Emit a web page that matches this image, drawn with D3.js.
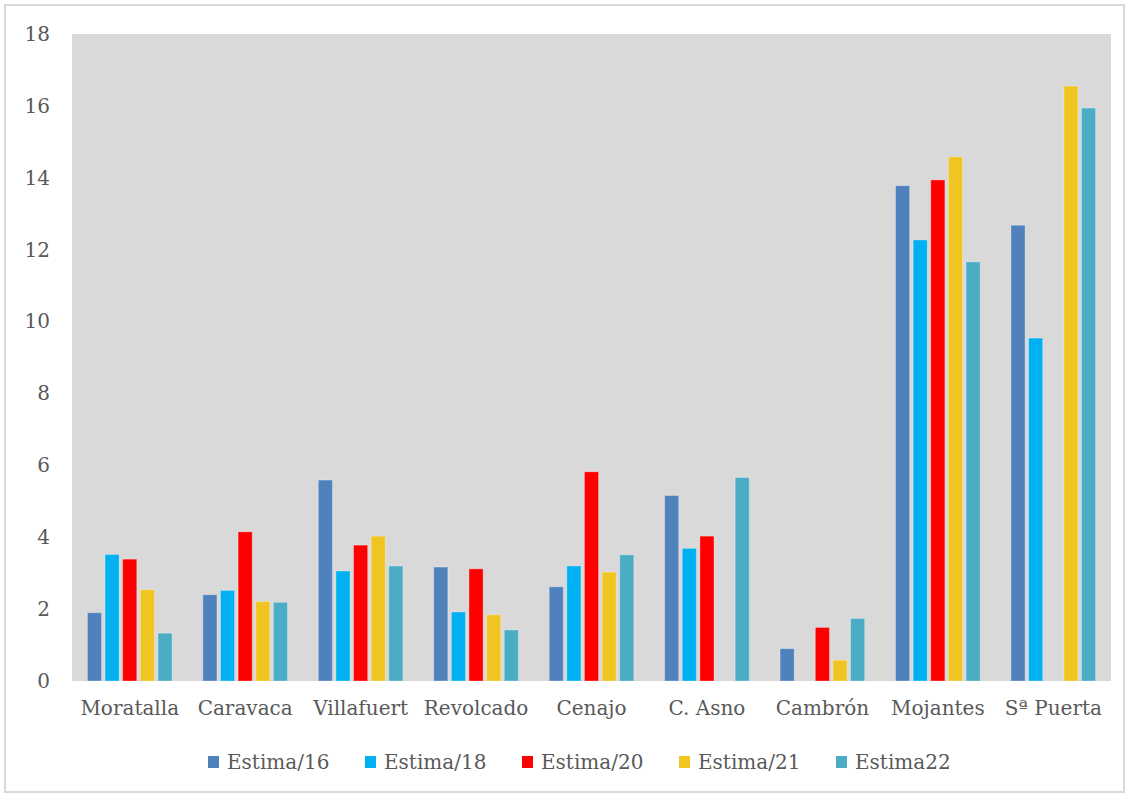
<!DOCTYPE html>
<html lang="es">
<head>
<meta charset="UTF-8">
<title>Estimas</title>
<script src="https://d3js.org/d3.v7.min.js"></script>
<style>
  body { margin: 0; background: #fff; }
  text { font-family: "DejaVu Serif", "Liberation Serif", serif; fill: #595959; }
</style>
</head>
<body>
<div id="chart"></div>
<script>
const categories = ['Moratalla', 'Caravaca', 'Villafuert', 'Revolcado', 'Cenajo', 'C. Asno', 'Cambrón', 'Mojantes', 'Sª Puerta'];
const seriesNames = ['Estima/16', 'Estima/18', 'Estima/20', 'Estima/21', 'Estima22'];
const seriesColors = ['#4f81bd', '#00b0f0', '#ff0000', '#f0c521', '#4bacc6'];

// null = no bar
const estima16 = [1.90, 2.40, 5.59, 3.17, 2.62, 5.16, 0.90, 13.78, 12.68];
const estima18 = [3.52, 2.52, 3.06, 1.92, 3.20, 3.69, null, 12.27, 9.54];
const estima20 = [3.39, 4.15, 3.78, 3.12, 5.82, 4.03, 1.49, 13.94, null];
const estima21 = [2.54, 2.21, 4.03, 1.84, 3.03, null, 0.58, 14.58, 16.55];
const estima22 = [1.33, 2.19, 3.20, 1.42, 3.51, 5.66, 1.74, 11.66, 15.94];
const yTicks = [0, 2, 4, 6, 8, 10, 12, 14, 16, 18];

const seriesValues = [estima16, estima18, estima20, estima21, estima22];

const width = 1129, height = 796;
const plot = { left: 72, right: 1111, top: 34, bottom: 681 };

const svg = d3.select('#chart').append('svg')
  .attr('width', width)
  .attr('height', height);

// outer frame
svg.append('rect')
  .attr('x', 5).attr('y', 5)
  .attr('width', width - 10).attr('height', height - 9)
  .attr('fill', '#fff')
  .attr('stroke', '#d9d9d9')
  .attr('stroke-width', 2);

svg.append('rect')
  .attr('x', plot.left).attr('y', plot.top)
  .attr('width', plot.right - plot.left).attr('height', plot.bottom - plot.top)
  .attr('fill', '#d9d9d9');

const x0 = d3.scaleBand().domain(categories).range([plot.left, plot.right]);
const groupW = x0.bandwidth() * 0.733;
const x1 = d3.scaleBand().domain(seriesNames).range([0, groupW]).paddingInner(0.2);
const y = d3.scaleLinear().domain([0, 18]).range([plot.bottom, plot.top]);

const rows = [];
categories.forEach((c, i) => {
  seriesNames.forEach((s, j) => {
    const v = seriesValues[j][i];
    if (v != null) rows.push({ cat: c, series: s, value: v, color: seriesColors[j] });
  });
});

svg.append('g').selectAll('rect')
  .data(rows)
  .enter()
  .append('rect')
  .attr('x', d => x0(d.cat) + (x0.bandwidth() - groupW) / 2 + x1(d.series))
  .attr('y', d => y(d.value))
  .attr('width', x1.bandwidth())
  .attr('height', d => y(0) - y(d.value))
  .attr('fill', d => d.color)
  .attr('stroke', 'rgba(255,255,255,0.3)')
  .attr('stroke-width', 1);

// y axis labels
const yAxis = d3.axisLeft(y).tickValues(yTicks).tickSize(0).tickPadding(22);
svg.append('g')
  .attr('transform', 'translate(' + plot.left + ',0)')
  .call(yAxis)
  .call(g => g.select('.domain').remove())
  .selectAll('text')
  .style('font-size', '20px')
  .attr('fill', '#595959');

// x axis labels
const xAxis = d3.axisBottom(x0).tickSize(0).tickPadding(20);
svg.append('g')
  .attr('transform', 'translate(0,' + plot.bottom + ')')
  .call(xAxis)
  .call(g => g.select('.domain').remove())
  .selectAll('text')
  .style('font-size', '20px')
  .attr('fill', '#595959');

// legend
const legend = svg.append('g').attr('id', 'legend');
seriesNames.forEach((s, j) => {
  const g = legend.append('g').attr('transform', 'translate(' + (208 + j * 157) + ',756)');
  g.append('rect')
    .attr('width', 11).attr('height', 12)
    .attr('fill', seriesColors[j]);
  g.append('text')
    .attr('x', 19).attr('y', 13)
    .style('font-size', '20px')
    .text(s);
});
</script>
</body>
</html>
